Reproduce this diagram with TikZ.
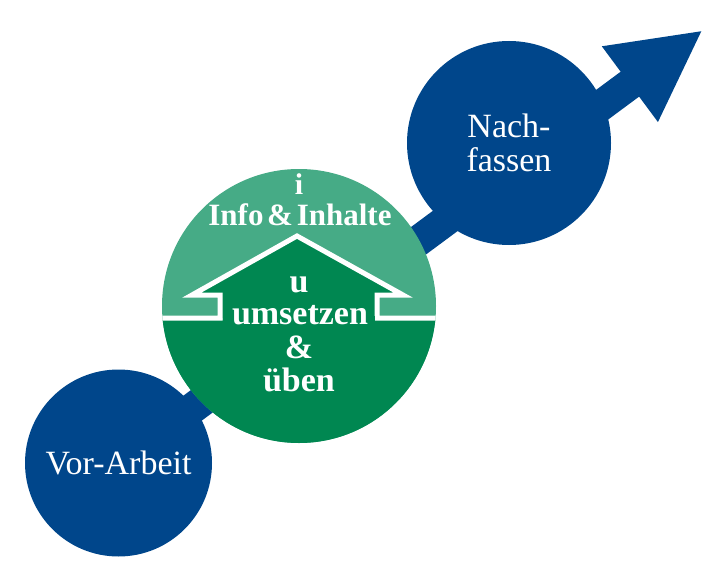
\documentclass[tikz,border=0pt]{standalone}
\usepackage{fontspec}
\setmainfont{Liberation Serif}
\usetikzlibrary{arrows.meta, backgrounds}
\definecolor{stepblue}{HTML}{00468B}
\definecolor{infogreen}{HTML}{46AB86}
\definecolor{housegreen}{HTML}{008751}

\begin{document}
\begin{tikzpicture}[x=1pt, y=-1pt]
        % Styles
        \tikzstyle{bluestep} = [circle, fill=stepblue, text=white, inner sep=0pt,
            align=center, font=\fontsize{34}{34}\selectfont]
        \tikzstyle{housestep} = [circle, fill=infogreen, inner sep=0pt, minimum size=274pt]
        \tikzstyle{housetext} = [text=white, inner sep=0pt, font=\fontsize{34}{34}\selectfont\bfseries]
        \tikzstyle{line} = [draw=stepblue, line width=31pt, -{Triangle[length=91pt, width=87pt]}]
        \useasboundingbox (0,0) rectangle (712,575);

        % Nodes
        \node [bluestep, minimum size=187pt] (vorarbeit) at (118.5,463) {Vor-Arbeit};
        \node [bluestep, minimum size=204pt] (nachfassen) at (509,143) {Nach-\\fassen};
        \node [housestep, path picture={
            \fill [housegreen] (-150,14) rectangle (150,150);
            \draw [white, line width=5pt, fill=housegreen, miter limit=10]
                (-149,12) -- (-79,12) -- (-79,-11) -- (-107,-11) -- (-2,-70)
                -- (104,-11) -- (78,-11) -- (78,12) -- (151,12);
            \fill [housegreen] (-76.5,10) rectangle (75.5,18);
        }] (umsetzen) at (299,306) {};
        \node [housetext, font=\fontsize{30}{30}\selectfont\bfseries] (i) at (299,184) {i};
        \node [housetext, font=\fontsize{31}{31}\selectfont\bfseries] (info) at (300,215)
            {Info\hspace{.12em}\&\hspace{.12em}Inhalte};
        \node [housetext] (u) at (299,285) {u};
        \node [housetext] (verb) at (300,315) {umsetzen};
        \node [housetext] (und) at (299,347) {\&};
        \node [housetext] (ueben) at (299,380) {üben};
        \coordinate (tip) at (703,30);

        % Connections
        \begin{pgfonlayer}{background}
            \path [line] (vorarbeit.center) -- (tip);
        \end{pgfonlayer}
    \end{tikzpicture}
\end{document}
